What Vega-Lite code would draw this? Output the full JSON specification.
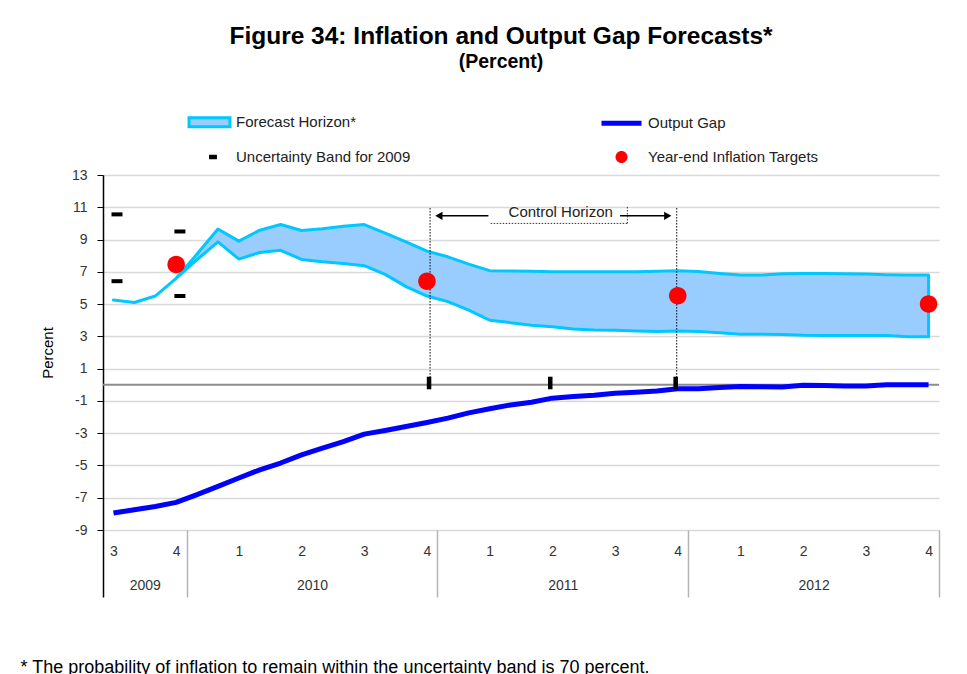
{
  "$schema": "https://vega.github.io/schema/vega-lite/v6.json",
  "width": 836,
  "height": 355,
  "autosize": {"type": "none"},
  "padding": {"left": 103, "top": 175, "right": 28, "bottom": 144},
  "background": "white",
  "config": {"font": "Liberation Sans", "view": {"stroke": null}},
  "title": {
    "text": "Figure 34: Inflation and Output Gap Forecasts*",
    "subtitle": "(Percent)",
    "anchor": "middle",
    "frame": "group",
    "dx": -20,
    "fontSize": 24.5,
    "fontWeight": "bold",
    "color": "#000000",
    "subtitleFontSize": 19.5,
    "subtitleFontWeight": "bold",
    "subtitleColor": "#000000",
    "subtitlePadding": 3,
    "offset": 26
  },
  "datasets": {
    "monthly": [
      {"i": 0, "up": 5.25, "lo": 5.25, "gap": -7.95},
      {"i": 1, "up": 5.1, "lo": 5.1, "gap": -7.74},
      {"i": 2, "up": 5.5, "lo": 5.5, "gap": -7.54},
      {"i": 3, "up": 6.6, "lo": 6.6, "gap": -7.29},
      {"i": 4, "up": 8.1, "lo": 7.75, "gap": -6.81},
      {"i": 5, "up": 9.65, "lo": 8.86, "gap": -6.3},
      {"i": 6, "up": 8.9, "lo": 7.79, "gap": -5.78},
      {"i": 7, "up": 9.58, "lo": 8.2, "gap": -5.27},
      {"i": 8, "up": 9.93, "lo": 8.33, "gap": -4.85},
      {"i": 9, "up": 9.56, "lo": 7.77, "gap": -4.34},
      {"i": 10, "up": 9.67, "lo": 7.62, "gap": -3.93},
      {"i": 11, "up": 9.83, "lo": 7.52, "gap": -3.52},
      {"i": 12, "up": 9.93, "lo": 7.38, "gap": -3.06},
      {"i": 13, "up": 9.4, "lo": 6.84, "gap": -2.83},
      {"i": 14, "up": 8.86, "lo": 6.08, "gap": -2.59},
      {"i": 15, "up": 8.28, "lo": 5.5, "gap": -2.34},
      {"i": 16, "up": 7.93, "lo": 5.15, "gap": -2.07},
      {"i": 17, "up": 7.48, "lo": 4.63, "gap": -1.74},
      {"i": 18, "up": 7.07, "lo": 4.0, "gap": -1.49},
      {"i": 19, "up": 7.05, "lo": 3.85, "gap": -1.25},
      {"i": 20, "up": 7.03, "lo": 3.69, "gap": -1.08},
      {"i": 21, "up": 7.0, "lo": 3.6, "gap": -0.83},
      {"i": 22, "up": 7.0, "lo": 3.46, "gap": -0.73},
      {"i": 23, "up": 7.0, "lo": 3.4, "gap": -0.65},
      {"i": 24, "up": 7.0, "lo": 3.38, "gap": -0.52},
      {"i": 25, "up": 7.0, "lo": 3.33, "gap": -0.46},
      {"i": 26, "up": 7.03, "lo": 3.3, "gap": -0.38},
      {"i": 27, "up": 7.07, "lo": 3.33, "gap": -0.25},
      {"i": 28, "up": 7.02, "lo": 3.3, "gap": -0.25},
      {"i": 29, "up": 6.9, "lo": 3.23, "gap": -0.17},
      {"i": 30, "up": 6.8, "lo": 3.13, "gap": -0.1},
      {"i": 31, "up": 6.8, "lo": 3.13, "gap": -0.12},
      {"i": 32, "up": 6.88, "lo": 3.12, "gap": -0.14},
      {"i": 33, "up": 6.9, "lo": 3.07, "gap": -0.03},
      {"i": 34, "up": 6.9, "lo": 3.05, "gap": -0.05},
      {"i": 35, "up": 6.88, "lo": 3.05, "gap": -0.07},
      {"i": 36, "up": 6.86, "lo": 3.05, "gap": -0.07},
      {"i": 37, "up": 6.82, "lo": 3.05, "gap": 0.0},
      {"i": 38, "up": 6.8, "lo": 2.98, "gap": 0.0},
      {"i": 39, "up": 6.8, "lo": 2.98, "gap": 0.0}
    ],
    "unc": [
      {"i": 0.17, "v": 10.56},
      {"i": 0.17, "v": 6.42},
      {"i": 3.18, "v": 9.5},
      {"i": 3.18, "v": 5.5}
    ],
    "targets": [
      {"i": 3, "v": 7.45},
      {"i": 15, "v": 6.42},
      {"i": 27, "v": 5.52},
      {"i": 39, "v": 5.0}
    ],
    "zeroMarks": [{"i": 15.1}, {"i": 20.9}, {"i": 26.9}],
    "ctrl": [{"i": 15.15}, {"i": 26.95}],
    "arrows": [
      {"x1": 15.5, "x2": 17.94, "y1": 10.47, "y2": 10.47},
      {"x1": 24.24, "x2": 26.6, "y1": 10.47, "y2": 10.47}
    ],
    "headL": [{"i": 15.57, "v": 10.47}],
    "headR": [{"i": 26.52, "v": 10.47}],
    "box": [
      {"x1": 18.05, "x2": 24.59, "y1": 10.0, "y2": 10.0},
      {"x1": 24.59, "x2": 24.59, "y1": 10.0, "y2": 11.12}
    ],
    "label": [{"i": 21.4, "v": 10.68, "t": "Control Horizon"}]
  },
  "resolve": {"axis": {"x": "independent"}},
  "layer": [
    {
      "data": {"name": "monthly"},
      "mark": {"type": "area", "fill": "#99CCFF", "stroke": "#00C8FF", "strokeWidth": 3, "strokeJoin": "round", "opacity": 1, "fillOpacity": 1},
      "encoding": {
        "x": {
          "field": "i", "type": "quantitative",
          "scale": {"domain": [-0.5, 39.5], "nice": false, "zero": false},
          "axis": {
            "orient": "bottom",
            "values": [0, 3, 6, 9, 12, 15, 18, 21, 24, 27, 30, 33, 36, 39],
            "labelExpr": "'' + (floor(((datum.value + 8) % 12) / 3) + 1)",
            "ticks": false, "domain": false, "grid": false, "title": null, "tickCount": 40,
            "labelPadding": 14, "labelFontSize": 14, "labelColor": "#333333", "labelFlush": false
          }
        },
        "y": {
          "field": "lo", "type": "quantitative",
          "scale": {"domain": [-9, 13], "nice": false, "zero": false},
          "axis": {
            "values": [-9, -7, -5, -3, -1, 1, 3, 5, 7, 9, 11, 13],
            "tickCount": 30, "labelOverlap": false,
            "labelExpr": "'' + datum.value",
            "title": "Percent", "titleFontSize": 15, "titleFontWeight": "normal", "titleColor": "#000000", "titlePadding": 16,
            "labelFontSize": 14, "labelColor": "#333333", "labelPadding": 10,
            "tickSize": 6, "tickColor": "#000000", "domainColor": "#000000", "domainWidth": 1.5,
            "grid": true, "gridColor": "#D9D9D9", "gridWidth": 1.5
          }
        },
        "y2": {"field": "up"}
      }
    },
    {
      "data": {"values": [{}]},
      "mark": {"type": "rule", "color": "#8C8C8C", "strokeWidth": 2},
      "encoding": {"y": {"datum": 0, "type": "quantitative"}}
    },
    {
      "data": {"name": "monthly"},
      "mark": {"type": "line", "color": "#0000FF", "strokeWidth": 5, "strokeJoin": "round"},
      "encoding": {
        "x": {
          "field": "i", "type": "quantitative",
          "axis": {
            "orient": "bottom",
            "values": [-0.5, 3.5, 15.5, 27.5, 39.5], "tickCount": 40,
            "labels": false, "domain": false, "grid": false, "title": null,
            "ticks": true, "tickSize": 67, "tickWidth": 1.5,
            "tickColor": {"condition": {"test": "datum.value < 0", "value": "#000000"}, "value": "#B4B4B4"}
          }
        },
        "y": {"field": "gap", "type": "quantitative"}
      }
    },
    {
      "data": {"name": "unc"},
      "mark": {"type": "tick", "orient": "horizontal", "color": "#000000", "size": 11, "thickness": 4, "opacity": 1},
      "encoding": {
        "x": {"field": "i", "type": "quantitative", "axis": null},
        "y": {"field": "v", "type": "quantitative"}
      }
    },
    {
      "data": {"name": "ctrl"},
      "mark": {"type": "rule", "color": "#000000", "strokeWidth": 1, "strokeDash": [1.5, 1.5]},
      "encoding": {
        "x": {"field": "i", "type": "quantitative", "axis": null},
        "y": {"datum": 10.95, "type": "quantitative"},
        "y2": {"datum": 0}
      }
    },
    {
      "data": {"name": "zeroMarks"},
      "mark": {"type": "rule", "color": "#000000", "strokeWidth": 4.5},
      "encoding": {
        "x": {"field": "i", "type": "quantitative", "axis": null},
        "y": {"datum": 0.5, "type": "quantitative"},
        "y2": {"datum": -0.28}
      }
    },
    {
      "data": {"name": "targets"},
      "mark": {"type": "point", "filled": true, "opacity": 1, "size": 4300},
      "encoding": {
        "x": {
          "field": "i", "type": "quantitative",
          "axis": {
            "orient": "bottom",
            "values": [1.5, 9.5, 21.5, 33.5], "tickCount": 40,
            "labelExpr": "datum.value < 3.5 ? '2009' : datum.value < 15.5 ? '2010' : datum.value < 27.5 ? '2011' : '2012'",
            "ticks": false, "domain": false, "grid": false,
            "labelPadding": 48, "labelFontSize": 14, "labelColor": "#333333", "labelFlush": false,
            "title": "* The probability of inflation to remain within the uncertainty band is 70 percent.",
            "titleFontSize": 18, "titleFontWeight": "normal", "titleColor": "#000000",
            "titleAnchor": "start", "titleAlign": "left", "titleBaseline": "alphabetic",
            "titleX": -83, "titleY": 142
          }
        },
        "y": {"field": "v", "type": "quantitative"},
        "color": {
          "datum": "Year-end Inflation Targets",
          "scale": {
            "domain": ["Forecast Horizon*", "Uncertainty Band for 2009", "Output Gap", "Year-end Inflation Targets"],
            "range": ["#99CCFF", "#000000", "#0000FF", "#FF0000"]
          },
          "legend": {
            "orient": "none", "legendX": 82.5, "legendY": -77, "columns": 2, "title": null,
            "symbolSize": 2025,
            "labelOffset": 2.5, "labelFontSize": 15, "labelColor": "#222222", "labelLimit": 400,
            "columnPadding": 184, "rowPadding": -15,
            "symbolStrokeWidth": 3, "symbolStrokeColor": "transparent", "symbolOpacity": 1
          }
        },
        "shape": {
          "datum": "Year-end Inflation Targets",
          "scale": {
            "domain": ["Forecast Horizon*", "Uncertainty Band for 2009", "Output Gap", "Year-end Inflation Targets"],
            "range": ["M-0.91,-0.2H0.91V0.2H-0.91Z", "M-0.02,-0.1H0.33V0.1H-0.02Z", "M-0.89,-0.11H0.89V0.11H-0.89Z", "M0.267,0A0.267,0.267,0,1,1,-0.267,0A0.267,0.267,0,1,1,0.267,0Z"]
          }
        },
        "stroke": {
          "datum": "Year-end Inflation Targets",
          "scale": {
            "domain": ["Forecast Horizon*", "Uncertainty Band for 2009", "Output Gap", "Year-end Inflation Targets"],
            "range": ["#00C8FF", "transparent", "transparent", "transparent"]
          }
        }
      }
    },
    {
      "data": {"name": "arrows"},
      "mark": {"type": "rule", "color": "#000000", "strokeWidth": 1.5},
      "encoding": {
        "x": {"field": "x1", "type": "quantitative", "axis": null},
        "x2": {"field": "x2"},
        "y": {"field": "y1", "type": "quantitative"},
        "y2": {"field": "y2"}
      }
    },
    {
      "data": {"name": "headL"},
      "mark": {"type": "point", "shape": "triangle-left", "filled": true, "size": 70, "color": "#000000", "opacity": 1},
      "encoding": {
        "x": {"field": "i", "type": "quantitative", "axis": null},
        "y": {"field": "v", "type": "quantitative"}
      }
    },
    {
      "data": {"name": "headR"},
      "mark": {"type": "point", "shape": "triangle-right", "filled": true, "size": 70, "color": "#000000", "opacity": 1},
      "encoding": {
        "x": {"field": "i", "type": "quantitative", "axis": null},
        "y": {"field": "v", "type": "quantitative"}
      }
    },
    {
      "data": {"name": "box"},
      "mark": {"type": "rule", "color": "#333333", "strokeWidth": 1, "strokeDash": [1.5, 1.5]},
      "encoding": {
        "x": {"field": "x1", "type": "quantitative", "axis": null},
        "x2": {"field": "x2"},
        "y": {"field": "y1", "type": "quantitative"},
        "y2": {"field": "y2"}
      }
    },
    {
      "data": {"name": "label"},
      "mark": {"type": "text", "fontSize": 15, "color": "#222222", "baseline": "middle", "align": "center"},
      "encoding": {
        "x": {"field": "i", "type": "quantitative", "axis": null},
        "y": {"field": "v", "type": "quantitative"},
        "text": {"field": "t"}
      }
    }
  ]
}
